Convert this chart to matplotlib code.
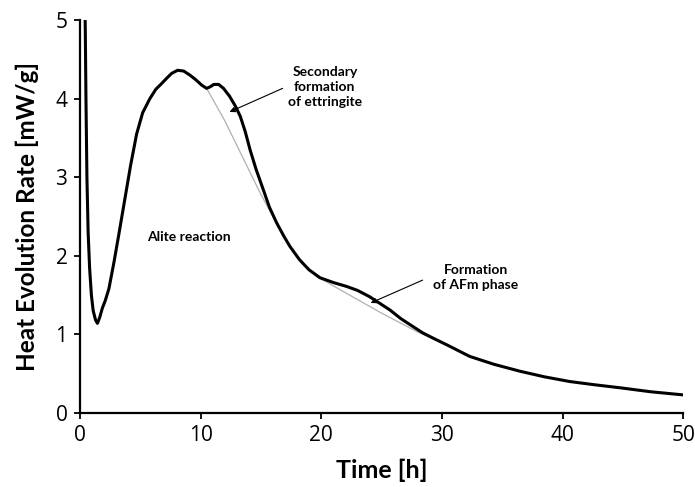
import matplotlib.pyplot as plt

# heat flow curve
time_h = [0.40, 0.45, 0.50, 0.58, 0.68, 0.80, 0.95, 1.10, 1.30, 1.45, 1.65, 1.85, 2.10,
          2.40, 2.80, 3.20, 3.70, 4.20, 4.70, 5.20, 5.80, 6.30, 6.70, 7.20, 7.60, 8.10,
          8.60, 9.10, 9.60, 10.10, 10.50, 10.80, 11.10, 11.50, 11.90, 12.40, 12.90,
          13.30, 13.70, 14.10, 14.60, 15.20, 15.70, 16.30, 16.90, 17.40, 18.20, 19.00,
          19.90, 21.00, 22.10, 23.00, 24.00, 24.80, 25.70, 26.60, 27.60, 28.40, 29.30,
          30.50, 32.30, 34.30, 36.50, 38.50, 40.60, 42.60, 44.80, 47.30, 50.00]
heat_rate = [5.40, 4.80, 4.00, 3.00, 2.30, 1.85, 1.50, 1.30, 1.18, 1.14, 1.22, 1.33, 1.43,
             1.58, 1.90, 2.25, 2.70, 3.15, 3.55, 3.82, 4.00, 4.12, 4.18, 4.26, 4.32, 4.36,
             4.35, 4.30, 4.24, 4.17, 4.13, 4.15, 4.18, 4.18, 4.13, 4.03, 3.90,
             3.77, 3.58, 3.35, 3.10, 2.84, 2.62, 2.42, 2.25, 2.12, 1.95, 1.82,
             1.72, 1.66, 1.61, 1.56, 1.48, 1.40, 1.31, 1.20, 1.10, 1.02, 0.95,
             0.86, 0.72, 0.62, 0.53, 0.46, 0.40, 0.36, 0.32, 0.27, 0.23]

# grey baselines under the two shoulders
base1_t = [10.5, 12.0, 13.5, 15.0, 16.0]
base1_q = [4.13, 3.72, 3.25, 2.78, 2.50]
base2_t = [19.5, 22.0, 25.0, 28.0, 30.5]
base2_q = [1.75, 1.53, 1.27, 1.03, 0.86]

fig = plt.figure(figsize=(6.95, 4.87), dpi=100)
ax = fig.add_axes([0.115, 0.152, 0.868, 0.807])

ax.plot(base1_t, base1_q, color='#b0b0b0', lw=0.9)
ax.plot(base2_t, base2_q, color='#b0b0b0', lw=0.9)
ax.plot(time_h, heat_rate, color='black', lw=2.2, solid_joinstyle='round')

ax.set_xlim(0, 50)
ax.set_ylim(0, 5)
ax.set_xticks([0, 10, 20, 30, 40, 50])
ax.set_yticks([0, 1, 2, 3, 4, 5])

for s in ['top', 'right']:
    ax.spines[s].set_visible(False)
for s in ['left', 'bottom']:
    ax.spines[s].set_linewidth(1.6)
ax.tick_params(direction='out', length=4, width=1.3, labelsize=15, pad=5)
for lab in ax.get_xticklabels() + ax.get_yticklabels():
    lab.set_family('Open Sans')

ax.set_xlabel('Time [h]', fontsize=18, fontweight='bold', family='Lato', labelpad=9)
ax.set_ylabel('Heat Evolution Rate [mW/g]', fontsize=17.5, fontweight='bold',
              family='Lato', labelpad=12)

txt = dict(fontsize=10, fontweight='bold', family='Lato', ha='center', va='center',
           linespacing=1.3)
arr = dict(arrowstyle='-|>', color='black', lw=0.8, mutation_scale=8,
           shrinkA=0, shrinkB=0)
ax.text(20.3, 4.15, 'Secondary\nformation\nof ettringite', **txt)
ax.annotate('', xy=(12.4, 3.83), xytext=(16.8, 4.13), arrowprops=arr)
ax.text(32.8, 1.72, 'Formation\nof AFm phase', **txt)
ax.annotate('', xy=(24.1, 1.40), xytext=(28.4, 1.69), arrowprops=arr)
ax.text(9.0, 2.24, 'Alite reaction', **txt)

plt.savefig('out.png', dpi=100)
